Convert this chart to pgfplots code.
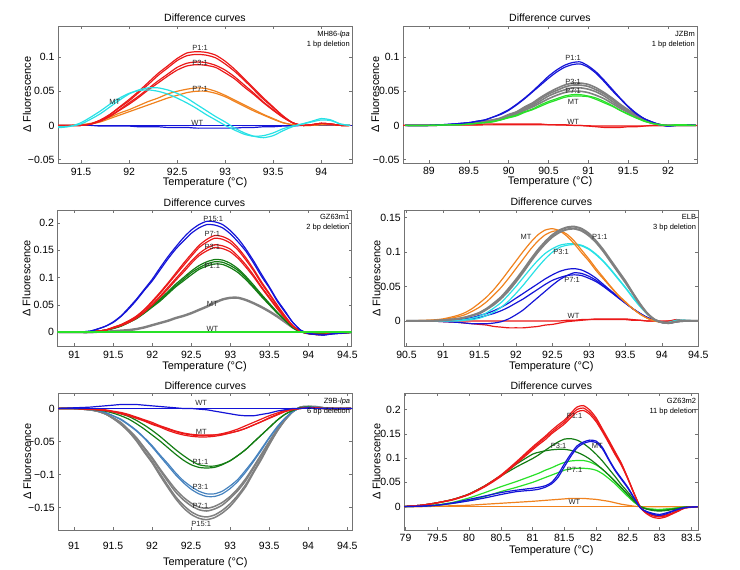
\documentclass[border=0pt]{standalone}
\usepackage{pgfplots}
\pgfplotsset{compat=1.18}
\usepackage{pgfplotstable}
\usepackage{fontspec}
\setmainfont{Liberation Sans}

\definecolor{cRed}{RGB}{235,25,25}
\definecolor{cBlue}{RGB}{20,20,215}
\definecolor{cCyan}{RGB}{40,225,230}
\definecolor{cOrange}{RGB}{240,130,30}
\definecolor{cGray}{RGB}{128,128,128}
\definecolor{cLGreen}{RGB}{40,225,40}
\definecolor{cDGreen}{RGB}{20,125,20}
\definecolor{cSteel}{RGB}{70,130,190}

\tikzset{
 lab/.style={font=\fontsize{7.5}{8.5}\selectfont, text=black!85, inner sep=0.5pt},
 corner/.style={anchor=north east, align=right, font=\fontsize{7.5}{10}\selectfont, inner sep=2pt, yshift=-2.5pt},
}
\pgfplotsset{
 panel/.style={
  anchor=south west, scale only axis, width=294pt, height=136.5pt,
  axis line style={draw=black!55},
  tick style={draw=black!55, line width=0.5pt},
  major tick length=3pt, tick align=inside, tick pos=both,
  tick label style={font=\fontsize{10.5}{12}\selectfont},
  xticklabel style={yshift=-1.5pt},
  title style={font=\fontsize{10.5}{12}\selectfont, at={(axis description cs:0.5,1)}, anchor=center, yshift=2.5pt},
  title={Difference curves},
  xlabel={Temperature (°C)},
  ylabel={Δ Fluorescence},
  every axis x label/.style={at={(axis description cs:0.5,0)}, anchor=center, yshift=-19.5pt, font=\fontsize{11}{13}\selectfont},
  every axis y label/.style={at={(axis description cs:-0.106,0.5)}, rotate=90, anchor=center, font=\fontsize{11}{13}\selectfont},
 },
 c/.style={line width=1.2pt, smooth, tension=0.4},
 ct/.style={line width=2pt, smooth, tension=0.4},
}

% Panel 1: MH86-lpa
\pgfplotstableread{
x r1 r2 r3 r4 o1 o2 c1 c2 b2
91.2 0 0 0 0 0 0 -0.002 -0.003 0
91.3 0 0 0 0 0 0 -0.002 -0.003 0
91.4 0 0 0 0 0 0 -0.001 -0.001 0
91.5 0 0 0 0 0.001 0.001 0.002 0.004 0
91.6 0.002 0.002 0.002 0.002 0.003 0.002 0.009 0.012 0
91.7 0.008 0.007 0.007 0.006 0.007 0.005 0.017 0.021 -0.001
91.8 0.016 0.016 0.014 0.013 0.012 0.010 0.027 0.031 -0.001
91.9 0.027 0.026 0.023 0.022 0.018 0.015 0.037 0.040 -0.001
92.0 0.038 0.036 0.033 0.031 0.023 0.020 0.046 0.047 -0.001
92.1 0.050 0.048 0.043 0.041 0.029 0.025 0.052 0.051 -0.002
92.2 0.063 0.060 0.054 0.052 0.035 0.030 0.055 0.052 -0.002
92.3 0.076 0.073 0.065 0.062 0.040 0.035 0.055 0.050 -0.002
92.4 0.087 0.084 0.075 0.072 0.046 0.040 0.052 0.046 -0.003
92.5 0.098 0.095 0.085 0.081 0.050 0.044 0.047 0.040 -0.003
92.6 0.106 0.102 0.091 0.087 0.053 0.048 0.040 0.033 -0.003
92.7 0.108 0.104 0.093 0.089 0.055 0.050 0.031 0.025 -0.004
92.8 0.107 0.103 0.092 0.088 0.054 0.050 0.022 0.016 -0.004
92.9 0.103 0.099 0.088 0.085 0.050 0.047 0.013 0.008 -0.004
93.0 0.094 0.090 0.081 0.077 0.044 0.042 0.005 0.000 -0.004
93.1 0.082 0.079 0.071 0.068 0.037 0.035 -0.004 -0.007 -0.004
93.2 0.068 0.066 0.059 0.056 0.030 0.028 -0.011 -0.013 -0.003
93.3 0.054 0.052 0.047 0.045 0.023 0.021 -0.016 -0.016 -0.003
93.4 0.040 0.038 0.034 0.033 0.016 0.015 -0.018 -0.015 -0.002
93.5 0.027 0.026 0.023 0.022 0.010 0.009 -0.015 -0.011 -0.002
93.6 0.014 0.014 0.012 0.012 0.004 0.004 -0.008 -0.005 -0.001
93.7 0.004 0.004 0.004 0.004 0.001 0.001 -0.002 -0.001 -0.001
93.8 0 0 0 0 0 0 0.002 0.002 0
93.9 0.001 0.001 0.001 0.001 0 0 0.006 0.005 0
94.0 0.003 0.003 0.003 0.003 0.001 0.001 0.010 0.008 0
94.1 0.002 0.002 0.002 0.002 0.001 0.001 0.008 0.007 0
94.2 0 0 0 0 0 0 0.002 0.002 0
94.3 0 0 0 0 0 0 0 0 0
}\tA

% Panel 2: JZBm
\pgfplotstableread{
x b1 b2 g1 g2 g3 g4 m1 m2 w1
88.7 0 0 0 0 0 0 0 0 0
89.0 0 0 0 0 0 0 0 0 0
89.3 0.002 0.002 0.001 0.001 0.001 0.001 0.001 0.001 0.001
89.4 0.003 0.003 0.002 0.002 0.002 0.002 0.001 0.001 0.001
89.5 0.004 0.004 0.003 0.003 0.003 0.002 0.002 0.002 0.001
89.6 0.006 0.006 0.004 0.004 0.004 0.003 0.003 0.003 0.001
89.7 0.008 0.008 0.006 0.006 0.005 0.005 0.004 0.004 0.002
89.8 0.012 0.012 0.008 0.008 0.007 0.006 0.006 0.005 0.002
89.9 0.017 0.016 0.011 0.010 0.010 0.009 0.008 0.008 0.002
90.0 0.023 0.022 0.016 0.015 0.014 0.013 0.012 0.011 0.002
90.1 0.031 0.030 0.020 0.019 0.018 0.016 0.015 0.014 0.002
90.2 0.040 0.039 0.027 0.026 0.024 0.022 0.020 0.019 0.002
90.3 0.050 0.049 0.033 0.031 0.029 0.027 0.024 0.023 0.002
90.4 0.061 0.059 0.041 0.039 0.036 0.033 0.030 0.028 0.002
90.5 0.072 0.069 0.048 0.046 0.043 0.039 0.035 0.033 0.001
90.6 0.081 0.078 0.054 0.051 0.048 0.044 0.039 0.037 0.001
90.7 0.088 0.085 0.059 0.056 0.052 0.048 0.043 0.041 0.001
90.8 0.092 0.089 0.062 0.059 0.055 0.050 0.045 0.043 0
90.9 0.093 0.090 0.062 0.059 0.055 0.050 0.045 0.043 0
91.0 0.087 0.085 0.060 0.057 0.053 0.048 0.043 0.042 -0.001
91.1 0.078 0.076 0.055 0.052 0.049 0.044 0.040 0.038 -0.002
91.2 0.066 0.064 0.048 0.046 0.043 0.039 0.035 0.033 -0.003
91.3 0.053 0.051 0.040 0.038 0.035 0.032 0.029 0.028 -0.003
91.4 0.040 0.039 0.031 0.029 0.027 0.025 0.022 0.022 -0.003
91.5 0.028 0.027 0.023 0.022 0.020 0.019 0.017 0.016 -0.002
91.6 0.018 0.017 0.016 0.015 0.014 0.013 0.011 0.011 -0.002
91.7 0.010 0.010 0.009 0.009 0.008 0.007 0.007 0.006 -0.001
91.8 0.005 0.005 0.004 0.004 0.004 0.003 0.003 0.003 0
91.9 0.001 0.001 0.001 0.001 0.001 0.001 0.001 0.001 0
92.0 -0.001 -0.001 0 0 0 0 0 0 0
92.1 0 0 0 0 0 0 0.001 0 0
92.2 0.001 0.001 0 0 0 0 0.001 0 0
92.35 0 0 0 0 0 0 0 0 0
}\tB

% Panel 3: GZ63m1
\pgfplotstableread{
x b1 b2 r1 r2 r3 r4 g1 g2 g3 gr
90.8 0 0 0 0 0 0 0 0 0 0
91.0 0 0 0 0 0 0 0 0 0 0
91.2 0.002 0.002 0.001 0.001 0.001 0.001 0.001 0.001 0.001 0
91.3 0.006 0.006 0.002 0.002 0.002 0.002 0.002 0.002 0.002 0.001
91.4 0.011 0.011 0.004 0.004 0.004 0.004 0.004 0.004 0.004 0.001
91.5 0.019 0.018 0.009 0.009 0.008 0.008 0.007 0.007 0.007 0.002
91.6 0.030 0.029 0.014 0.014 0.013 0.012 0.012 0.012 0.011 0.003
91.7 0.045 0.043 0.021 0.021 0.019 0.018 0.019 0.018 0.018 0.004
91.8 0.061 0.059 0.030 0.029 0.027 0.026 0.027 0.026 0.025 0.006
91.9 0.079 0.077 0.042 0.041 0.038 0.037 0.037 0.036 0.035 0.009
92.0 0.097 0.094 0.057 0.055 0.051 0.050 0.049 0.048 0.046 0.013
92.1 0.118 0.114 0.073 0.071 0.066 0.064 0.061 0.059 0.057 0.017
92.2 0.138 0.134 0.090 0.088 0.082 0.079 0.074 0.072 0.070 0.021
92.3 0.156 0.152 0.108 0.105 0.098 0.095 0.088 0.085 0.083 0.026
92.4 0.173 0.167 0.126 0.122 0.114 0.110 0.100 0.097 0.094 0.030
92.5 0.187 0.181 0.143 0.139 0.130 0.126 0.112 0.109 0.105 0.035
92.6 0.197 0.191 0.159 0.155 0.144 0.140 0.122 0.118 0.115 0.041
92.7 0.203 0.197 0.170 0.165 0.154 0.149 0.129 0.125 0.121 0.047
92.8 0.202 0.196 0.177 0.172 0.160 0.155 0.133 0.129 0.125 0.054
92.9 0.197 0.191 0.175 0.170 0.158 0.153 0.132 0.128 0.124 0.060
93.0 0.186 0.180 0.168 0.163 0.152 0.147 0.126 0.122 0.118 0.063
93.1 0.171 0.165 0.154 0.150 0.139 0.135 0.116 0.113 0.109 0.063
93.2 0.152 0.148 0.136 0.132 0.123 0.119 0.102 0.099 0.096 0.059
93.3 0.130 0.126 0.115 0.112 0.104 0.101 0.086 0.083 0.081 0.053
93.4 0.106 0.102 0.092 0.089 0.083 0.081 0.069 0.067 0.065 0.046
93.5 0.083 0.081 0.071 0.069 0.064 0.062 0.053 0.051 0.050 0.038
93.6 0.059 0.057 0.050 0.048 0.045 0.043 0.037 0.036 0.035 0.029
93.7 0.039 0.037 0.030 0.029 0.027 0.026 0.023 0.022 0.022 0.019
93.8 0.018 0.018 0.012 0.012 0.011 0.011 0.009 0.009 0.008 0.009
93.9 0.004 0.004 0.002 0.002 0.002 0.002 0.001 0.001 0.001 0.002
94.0 -0.002 -0.002 -0.002 -0.002 -0.002 -0.002 -0.002 -0.002 -0.002 -0.002
94.1 -0.004 -0.004 -0.004 -0.004 -0.004 -0.004 -0.003 -0.003 -0.003 -0.003
94.2 -0.005 -0.005 -0.004 -0.004 -0.004 -0.004 -0.003 -0.003 -0.003 -0.003
94.3 -0.003 -0.003 -0.002 -0.002 -0.002 -0.002 -0.002 -0.002 -0.002 -0.002
94.55 0 0 0 0 0 0 0 0 0 0
}\tC

% Panel 4: ELB
\pgfplotstableread{
x o1 o2 ga gb c1 c2 b1 b2 b3 w1 w2
90.5 0 0 0 0 0 0 0 0 0 0 0
90.8 0.001 0.001 0 0 0 0 0 0 0 0 0
91.0 0.003 0.002 0.001 0.001 0 0 0.001 -0.001 0 -0.001 0
91.2 0.008 0.006 0.003 0.003 0.001 0 0.002 -0.002 0.001 -0.002 0
91.3 0.012 0.009 0.005 0.005 0.002 0.001 0.003 -0.003 0.002 -0.003 0
91.4 0.018 0.014 0.008 0.008 0.004 0.002 0.005 -0.004 0.003 -0.004 0
91.5 0.026 0.020 0.012 0.011 0.007 0.004 0.008 -0.004 0.005 -0.005 0
91.6 0.035 0.028 0.018 0.017 0.012 0.008 0.011 -0.004 0.008 -0.006 0
91.7 0.046 0.038 0.026 0.024 0.019 0.013 0.015 -0.003 0.011 -0.008 0
91.8 0.059 0.049 0.035 0.033 0.027 0.020 0.020 -0.001 0.015 -0.009 0
91.9 0.073 0.062 0.047 0.044 0.038 0.029 0.026 0.003 0.020 -0.010 0
92.0 0.087 0.076 0.060 0.057 0.050 0.040 0.033 0.009 0.026 -0.010 0
92.1 0.101 0.090 0.074 0.071 0.063 0.052 0.040 0.016 0.032 -0.010 0
92.2 0.114 0.104 0.089 0.086 0.076 0.065 0.047 0.025 0.039 -0.009 0
92.3 0.125 0.116 0.103 0.100 0.088 0.078 0.054 0.034 0.046 -0.008 0
92.4 0.132 0.125 0.115 0.112 0.098 0.090 0.061 0.043 0.053 -0.006 0
92.5 0.134 0.130 0.125 0.122 0.105 0.100 0.067 0.052 0.059 -0.005 0
92.6 0.131 0.131 0.132 0.129 0.110 0.107 0.072 0.060 0.063 -0.003 0
92.7 0.123 0.126 0.136 0.133 0.112 0.110 0.075 0.066 0.066 -0.001 0.001
92.8 0.112 0.116 0.137 0.134 0.112 0.111 0.076 0.070 0.067 0.000 0.001
92.9 0.099 0.103 0.134 0.131 0.110 0.109 0.074 0.069 0.066 0.001 0.002
93.0 0.087 0.090 0.127 0.124 0.105 0.104 0.069 0.065 0.062 0.002 0.002
93.1 0.073 0.076 0.116 0.114 0.097 0.096 0.062 0.059 0.057 0.003 0.002
93.2 0.061 0.063 0.103 0.101 0.087 0.086 0.053 0.051 0.050 0.003 0.002
93.3 0.049 0.050 0.088 0.086 0.075 0.074 0.044 0.043 0.042 0.003 0.002
93.4 0.037 0.038 0.073 0.071 0.062 0.061 0.035 0.034 0.034 0.003 0.002
93.5 0.027 0.028 0.058 0.056 0.049 0.048 0.026 0.026 0.026 0.003 0.002
93.6 0.018 0.018 0.041 0.040 0.035 0.034 0.018 0.018 0.018 0.002 0.001
93.7 0.010 0.010 0.025 0.024 0.022 0.021 0.011 0.011 0.011 0.001 0.001
93.8 0.004 0.004 0.011 0.011 0.010 0.010 0.005 0.005 0.005 0 0
93.9 0 0 0.002 0.002 0.002 0.002 0.001 0.001 0.001 0 0
94.0 -0.002 -0.002 -0.002 -0.002 -0.002 -0.002 -0.002 -0.002 -0.002 -0.001 0
94.1 -0.003 -0.003 -0.003 -0.003 -0.002 -0.002 -0.003 -0.003 -0.003 0 0
94.2 -0.001 -0.001 -0.001 -0.001 0.001 0.001 -0.001 -0.001 -0.001 0.002 0.001
94.3 0 0 0 0 0.001 0.001 0 0 0 0.001 0
94.5 0 0 0 0 0 0 0 0 0 0 0
}\tD

% Panel 5: Z9B-lpa
\pgfplotstableread{
x pa pb qa qb s1 s2 g1 g2 m1 m2 m3 w1
90.8 0 0 0 0 0 0 0 0 0 0 0 0
91.0 0 0 0 0 0 0 0 0 0 0 0 0.001
91.2 -0.002 -0.002 -0.002 -0.002 -0.001 -0.001 -0.001 -0.001 -0.001 -0.001 -0.001 0.002
91.3 -0.004 -0.004 -0.004 -0.004 -0.003 -0.003 -0.002 -0.002 -0.002 -0.002 -0.001 0.003
91.4 -0.008 -0.008 -0.008 -0.008 -0.006 -0.006 -0.004 -0.003 -0.003 -0.003 -0.002 0.004
91.5 -0.015 -0.015 -0.014 -0.014 -0.011 -0.011 -0.007 -0.005 -0.005 -0.005 -0.004 0.005
91.6 -0.024 -0.023 -0.022 -0.021 -0.017 -0.016 -0.011 -0.008 -0.008 -0.007 -0.006 0.006
91.7 -0.035 -0.034 -0.033 -0.032 -0.025 -0.024 -0.016 -0.012 -0.011 -0.010 -0.009 0.006
91.8 -0.049 -0.048 -0.045 -0.044 -0.034 -0.033 -0.023 -0.018 -0.015 -0.014 -0.013 0.006
91.9 -0.066 -0.064 -0.060 -0.059 -0.045 -0.044 -0.031 -0.025 -0.019 -0.018 -0.017 0.005
92.0 -0.082 -0.080 -0.076 -0.074 -0.058 -0.056 -0.040 -0.033 -0.024 -0.023 -0.021 0.004
92.1 -0.101 -0.098 -0.093 -0.091 -0.072 -0.070 -0.049 -0.042 -0.028 -0.027 -0.026 0.003
92.2 -0.119 -0.116 -0.110 -0.107 -0.086 -0.083 -0.059 -0.052 -0.033 -0.031 -0.030 0.002
92.3 -0.136 -0.133 -0.126 -0.122 -0.100 -0.097 -0.069 -0.062 -0.037 -0.035 -0.034 0.001
92.4 -0.150 -0.146 -0.138 -0.134 -0.112 -0.109 -0.078 -0.071 -0.040 -0.038 -0.037 0
92.5 -0.160 -0.156 -0.147 -0.143 -0.122 -0.118 -0.085 -0.079 -0.042 -0.040 -0.039 0
92.6 -0.166 -0.162 -0.153 -0.149 -0.129 -0.125 -0.089 -0.085 -0.043 -0.041 -0.040 -0.001
92.7 -0.168 -0.164 -0.155 -0.151 -0.133 -0.129 -0.090 -0.087 -0.043 -0.041 -0.040 -0.002
92.8 -0.165 -0.161 -0.152 -0.148 -0.133 -0.129 -0.089 -0.087 -0.042 -0.040 -0.040 -0.004
92.9 -0.158 -0.154 -0.146 -0.142 -0.129 -0.125 -0.085 -0.084 -0.040 -0.038 -0.039 -0.006
93.0 -0.148 -0.144 -0.136 -0.133 -0.121 -0.117 -0.079 -0.079 -0.037 -0.035 -0.037 -0.008
93.1 -0.134 -0.131 -0.124 -0.121 -0.110 -0.107 -0.071 -0.071 -0.034 -0.031 -0.034 -0.010
93.2 -0.118 -0.115 -0.109 -0.106 -0.096 -0.093 -0.062 -0.062 -0.030 -0.026 -0.030 -0.011
93.3 -0.097 -0.095 -0.090 -0.088 -0.080 -0.078 -0.051 -0.051 -0.025 -0.021 -0.025 -0.011
93.4 -0.077 -0.075 -0.071 -0.069 -0.063 -0.061 -0.040 -0.040 -0.020 -0.016 -0.020 -0.009
93.5 -0.055 -0.054 -0.051 -0.050 -0.045 -0.044 -0.029 -0.029 -0.015 -0.011 -0.014 -0.007
93.6 -0.035 -0.034 -0.033 -0.032 -0.029 -0.028 -0.018 -0.018 -0.010 -0.007 -0.009 -0.004
93.7 -0.018 -0.018 -0.017 -0.017 -0.015 -0.015 -0.009 -0.009 -0.005 -0.003 -0.004 -0.002
93.8 -0.005 -0.005 -0.005 -0.005 -0.005 -0.005 -0.003 -0.003 -0.002 -0.001 -0.001 0
93.9 0.002 0.002 0.002 0.002 0.001 0.001 0.001 0.001 0 0 0 0
94.0 0.003 0.003 0.003 0.003 0.002 0.002 0.002 0.002 0.001 0.001 0.001 0.001
94.1 0.003 0.002 0.002 0.002 0.002 0.002 0.001 0.001 0.001 0.001 0 0
94.2 0.001 0.001 0.001 0.001 0.001 0.001 0 0 0 0 0 0
94.3 0 0 0 0 0 0 0 0 0 0 0 0
94.55 0 0 0 0 0 0 0 0 0 0 0 0
}\tE

% Panel 6: GZ63m2
\pgfplotstableread{
x r1 r2 r3 dg1 dg2 lg1 lg2 b1 b2 o1
78.95 0 0 0 0 0 0 0 0 0 0
79.25 0.003 0.003 0.003 0.003 0.003 0.002 0.001 0.001 0.001 0
79.5 0.008 0.008 0.008 0.008 0.008 0.004 0.003 0.003 0.003 0.001
79.75 0.015 0.015 0.014 0.015 0.015 0.009 0.007 0.008 0.007 0.002
80.0 0.026 0.025 0.025 0.026 0.026 0.018 0.013 0.015 0.012 0.003
80.25 0.043 0.042 0.041 0.043 0.043 0.029 0.021 0.022 0.018 0.005
80.5 0.065 0.064 0.062 0.063 0.064 0.041 0.031 0.029 0.025 0.007
80.75 0.093 0.091 0.089 0.082 0.088 0.052 0.040 0.034 0.031 0.009
81.0 0.123 0.120 0.117 0.099 0.108 0.064 0.050 0.038 0.034 0.011
81.1 0.134 0.131 0.128 0.107 0.112 0.069 0.055 0.040 0.036 0.012
81.2 0.145 0.142 0.138 0.116 0.115 0.075 0.060 0.043 0.040 0.013
81.3 0.157 0.153 0.150 0.125 0.117 0.080 0.065 0.050 0.047 0.014
81.4 0.168 0.164 0.160 0.133 0.118 0.086 0.070 0.066 0.060 0.015
81.5 0.178 0.174 0.170 0.139 0.118 0.091 0.075 0.088 0.082 0.016
81.6 0.192 0.188 0.183 0.140 0.116 0.094 0.078 0.108 0.103 0.017
81.7 0.205 0.200 0.195 0.137 0.112 0.095 0.079 0.125 0.121 0.017
81.8 0.208 0.203 0.198 0.130 0.106 0.095 0.079 0.133 0.130 0.017
81.9 0.199 0.194 0.190 0.120 0.098 0.092 0.078 0.137 0.134 0.016
82.0 0.183 0.179 0.175 0.108 0.088 0.086 0.075 0.135 0.132 0.015
82.1 0.160 0.157 0.154 0.094 0.077 0.077 0.068 0.122 0.119 0.013
82.2 0.137 0.134 0.131 0.078 0.065 0.065 0.058 0.098 0.096 0.011
82.3 0.113 0.110 0.107 0.062 0.052 0.052 0.047 0.076 0.074 0.008
82.4 0.089 0.087 0.085 0.045 0.039 0.038 0.034 0.058 0.056 0.005
82.5 0.059 0.058 0.057 0.030 0.025 0.024 0.021 0.040 0.038 0.003
82.6 0.027 0.027 0.026 0.014 0.011 0.010 0.009 0.018 0.017 0.001
82.7 -0.002 -0.002 -0.002 0 0 0 0 -0.003 -0.003 0
82.8 -0.015 -0.013 -0.012 -0.005 -0.005 -0.004 -0.004 -0.011 -0.010 0
82.9 -0.022 -0.019 -0.017 -0.008 -0.007 -0.006 -0.005 -0.016 -0.014 0
83.0 -0.024 -0.021 -0.019 -0.009 -0.008 -0.006 -0.006 -0.018 -0.016 0
83.1 -0.021 -0.019 -0.017 -0.008 -0.007 -0.005 -0.005 -0.015 -0.013 0
83.2 -0.015 -0.014 -0.013 -0.006 -0.005 -0.004 -0.004 -0.010 -0.009 0
83.3 -0.009 -0.008 -0.007 -0.004 -0.003 -0.002 -0.002 -0.005 -0.005 0
83.4 -0.003 -0.002 -0.002 -0.001 -0.001 -0.001 -0.001 -0.002 -0.002 0
83.6 0 0 0 0 0 0 0 0 0 0
}\tF

\begin{document}
\begin{tikzpicture}
\path[use as bounding box] (0,0) rectangle (740pt,570pt);

% ---------- Panel 1 ----------
\begin{axis}[panel, at={(58pt,407pt)},
  xmin=91.26, xmax=94.32, ymin=-0.0551, ymax=0.1449,
  xtick={91.5,92,92.5,93,93.5,94}, xticklabels={91.5,92,92.5,93,93.5,94},
  ytick={-0.05,0,0.05,0.1}, yticklabels={−0.05,0,0.05,0.1}]
\addplot[c, cBlue] coordinates {(91.2,0) (94.35,0)};
\addplot[c, cBlue] table[x=x,y=b2]{\tA};
\addplot[c, cOrange] table[x=x,y=o1]{\tA};
\addplot[c, cOrange] table[x=x,y=o2]{\tA};
\addplot[c, cRed] table[x=x,y=r1]{\tA};
\addplot[c, cRed] table[x=x,y=r2]{\tA};
\addplot[c, cRed] table[x=x,y=r3]{\tA};
\addplot[c, cRed] table[x=x,y=r4]{\tA};
\addplot[c, cCyan] table[x=x,y=c1]{\tA};
\addplot[c, cCyan] table[x=x,y=c2]{\tA};
\node[lab] at (axis cs:92.74,0.114) {P1:1};
\node[lab] at (axis cs:92.74,0.091) {P3:1};
\node[lab] at (axis cs:92.74,0.053) {P7:1};
\node[lab] at (axis cs:91.85,0.034) {MT};
\node[lab] at (axis cs:92.71,0.004) {WT};
\node[corner] at (rel axis cs:1,1) {MH86-\textit{lpa}\\1 bp deletion};
\end{axis}

% ---------- Panel 2 ----------
\begin{axis}[panel, at={(403pt,407pt)},
  every axis y label/.append style={at={(axis description cs:-0.095,0.5)}},
  xticklabel style={yshift=1pt},
  every axis x label/.append style={yshift=1pt},
  xmin=88.674, xmax=92.364, ymin=-0.0551, ymax=0.1449,
  xtick={89,89.5,90,90.5,91,91.5,92}, xticklabels={89,89.5,90,90.5,91,91.5,92},
  ytick={-0.05,0,0.05,0.1}, yticklabels={−0.05,0,0.05,0.1}]
\addplot[c, cRed] coordinates {(88.6,0) (90.4,0.001) (91.2,-0.001) (92.4,0)};
\addplot[c, cRed] table[x=x,y=w1]{\tB};
\addplot[ct, cGray, line width=1.6pt] table[x=x,y=g1]{\tB};
\addplot[ct, cGray, line width=1.6pt] table[x=x,y=g2]{\tB};
\addplot[ct, cGray, line width=1.6pt] table[x=x,y=g3]{\tB};
\addplot[ct, cGray, line width=1.6pt] table[x=x,y=g4]{\tB};
\addplot[c, cBlue] table[x=x,y=b1]{\tB};
\addplot[c, cBlue] table[x=x,y=b2]{\tB};
\addplot[c, cLGreen] table[x=x,y=m1]{\tB};
\addplot[c, cLGreen] table[x=x,y=m2]{\tB};
\node[lab] at (axis cs:90.81,0.099) {P1:1};
\node[lab] at (axis cs:90.81,0.064) {P3:1};
\node[lab] at (axis cs:90.81,0.051) {P7:1};
\node[lab] at (axis cs:90.81,0.034) {MT};
\node[lab] at (axis cs:90.81,0.005) {WT};
\node[corner] at (rel axis cs:1,1) {JZBm\\1 bp deletion};
\end{axis}

% ---------- Panel 3 ----------
\begin{axis}[panel, at={(57.5pt,223.5pt)},
  every axis x label/.append style={yshift=-0.5pt},
  title style={yshift=-0.8pt},
  xmin=90.786, xmax=94.552, ymin=-0.026, ymax=0.2236,
  xtick={91,91.5,92,92.5,93,93.5,94,94.5}, xticklabels={91,91.5,92,92.5,93,93.5,94,94.5},
  ytick={0,0.05,0.1,0.15,0.2}, yticklabels={0,0.05,0.1,0.15,0.2}]
\addplot[ct, cGray, line width=2.4pt] table[x=x,y=gr]{\tC};
\addplot[c, cDGreen] table[x=x,y=g1]{\tC};
\addplot[c, cDGreen] table[x=x,y=g2]{\tC};
\addplot[c, cDGreen] table[x=x,y=g3]{\tC};
\addplot[c, cRed] table[x=x,y=r1]{\tC};
\addplot[c, cRed] table[x=x,y=r2]{\tC};
\addplot[c, cRed] table[x=x,y=r3]{\tC};
\addplot[c, cRed] table[x=x,y=r4]{\tC};
\addplot[c, cBlue] table[x=x,y=b1]{\tC};
\addplot[c, cBlue] table[x=x,y=b2]{\tC};
\addplot[line width=2pt, cLGreen] coordinates {(90.7,0.001) (94.6,0.001)};
\node[lab] at (axis cs:92.78,0.207) {P15:1};
\node[lab] at (axis cs:92.77,0.180) {P7:1};
\node[lab] at (axis cs:92.77,0.156) {P3:1};
\node[lab] at (axis cs:92.77,0.122) {P1:1};
\node[lab] at (axis cs:92.77,0.051) {MT};
\node[lab] at (axis cs:92.77,0.007) {WT};
\node[corner] at (rel axis cs:1,1) {GZ63m1\\2 bp deletion};
\end{axis}

% ---------- Panel 4 ----------
\begin{axis}[panel, at={(404.3pt,223.5pt)},
  every axis y label/.append style={at={(axis description cs:-0.095,0.5)}},
  every axis x label/.append style={yshift=-1pt},
  xmin=90.47, xmax=94.5, ymin=-0.0371, ymax=0.1612,
  xtick={90.5,91,91.5,92,92.5,93,93.5,94,94.5}, xticklabels={90.5,91,91.5,92,92.5,93,93.5,94,94.5},
  ytick={0,0.05,0.1,0.15}, yticklabels={0,0.05,0.1,0.15}]
\addplot[c, cRed] table[x=x,y=w1]{\tD};
\addplot[c, cRed] table[x=x,y=w2]{\tD};
\addplot[c, cBlue] table[x=x,y=b1]{\tD};
\addplot[c, cBlue] table[x=x,y=b2]{\tD};
\addplot[c, cBlue] table[x=x,y=b3]{\tD};
\addplot[c, cCyan] table[x=x,y=c1]{\tD};
\addplot[c, cCyan] table[x=x,y=c2]{\tD};
\addplot[c, cOrange] table[x=x,y=o1]{\tD};
\addplot[c, cOrange] table[x=x,y=o2]{\tD};
\addplot[ct, cGray] table[x=x,y=ga]{\tD};
\addplot[ct, cGray] table[x=x,y=gb]{\tD};
\node[lab] at (axis cs:92.14,0.122) {MT};
\node[lab] at (axis cs:93.15,0.122) {P1:1};
\node[lab] at (axis cs:92.62,0.101) {P3:1};
\node[lab] at (axis cs:92.77,0.059) {P7:1};
\node[lab] at (axis cs:92.79,0.007) {WT};
\node[corner] at (rel axis cs:1,1) {ELB\\3 bp deletion};
\end{axis}

% ---------- Panel 5 ----------
\begin{axis}[panel, at={(58.3pt,40pt)},
  xticklabel style={yshift=-7pt},
  every axis x label/.append style={yshift=-13pt},
  title style={yshift=-0.8pt},
  xmin=90.80, xmax=94.564, ymin=-0.1837, ymax=0.02265,
  xtick={91,91.5,92,92.5,93,93.5,94,94.5}, xticklabels={91,91.5,92,92.5,93,93.5,94,94.5},
  ytick={-0.15,-0.1,-0.05,0}, yticklabels={−0.15,−0.1,−0.05,0}]
\addplot[c, cGray, line width=1.5pt] table[x=x,y=pa]{\tE};
\addplot[c, cGray, line width=1.5pt] table[x=x,y=pb]{\tE};
\addplot[c, cGray, line width=1.5pt] table[x=x,y=qa]{\tE};
\addplot[c, cGray, line width=1.5pt] table[x=x,y=qb]{\tE};
\addplot[c, cSteel] table[x=x,y=s1]{\tE};
\addplot[c, cSteel] table[x=x,y=s2]{\tE};
\addplot[c, cDGreen] table[x=x,y=g1]{\tE};
\addplot[c, cDGreen] table[x=x,y=g2]{\tE};
\addplot[c, cRed] table[x=x,y=m1]{\tE};
\addplot[c, cRed] table[x=x,y=m2]{\tE};
\addplot[c, cRed] table[x=x,y=m3]{\tE};
\addplot[c, cBlue] coordinates {(90.7,0) (94.6,0)};
\addplot[c, cBlue] table[x=x,y=w1]{\tE};
\node[lab] at (axis cs:92.63,0.0086) {WT};
\node[lab] at (axis cs:92.63,-0.036) {MT};
\node[lab] at (axis cs:92.62,-0.081) {P1:1};
\node[lab] at (axis cs:92.62,-0.118) {P3:1};
\node[lab] at (axis cs:92.62,-0.147) {P7:1};
\node[lab] at (axis cs:92.63,-0.174) {P15:1};
\node[corner] at (rel axis cs:1,1) {Z9B-\textit{lpa}\\6 bp deletion};
\end{axis}

% ---------- Panel 6 ----------
\begin{axis}[panel, at={(404.3pt,40pt)},
  every axis y label/.append style={at={(axis description cs:-0.095,0.5)}},
  xticklabel style={yshift=1pt},
  every axis x label/.append style={yshift=-1pt},
  title style={yshift=-0.8pt},
  xmin=78.98, xmax=83.61, ymin=-0.048, ymax=0.2329,
  xtick={79,79.5,80,80.5,81,81.5,82,82.5,83,83.5}, xticklabels={79,79.5,80,80.5,81,81.5,82,82.5,83,83.5},
  ytick={0,0.05,0.1,0.15,0.2}, yticklabels={0,0.05,0.1,0.15,0.2}]
\addplot[c, cOrange] coordinates {(78.9,0) (83.7,0)};
\addplot[c, cOrange] table[x=x,y=o1]{\tF};
\addplot[c, cLGreen] table[x=x,y=lg1]{\tF};
\addplot[c, cLGreen] table[x=x,y=lg2]{\tF};
\addplot[c, cDGreen] table[x=x,y=dg1]{\tF};
\addplot[c, cDGreen] table[x=x,y=dg2]{\tF};
\addplot[c, cRed] table[x=x,y=r1]{\tF};
\addplot[c, cRed] table[x=x,y=r2]{\tF};
\addplot[c, cRed] table[x=x,y=r3]{\tF};
\addplot[c, cBlue] table[x=x,y=b1]{\tF};
\addplot[c, cBlue] table[x=x,y=b2]{\tF};
\node[lab] at (axis cs:81.66,0.186) {P1:1};
\node[lab] at (axis cs:81.41,0.125) {P3:1};
\node[lab] at (axis cs:82.02,0.125) {MT};
\node[lab] at (axis cs:81.66,0.075) {P7:1};
\node[lab] at (axis cs:81.66,0.010) {WT};
\node[corner] at (rel axis cs:1,1) {GZ63m2\\11 bp deletion};
\end{axis}
\end{tikzpicture}
\end{document}
